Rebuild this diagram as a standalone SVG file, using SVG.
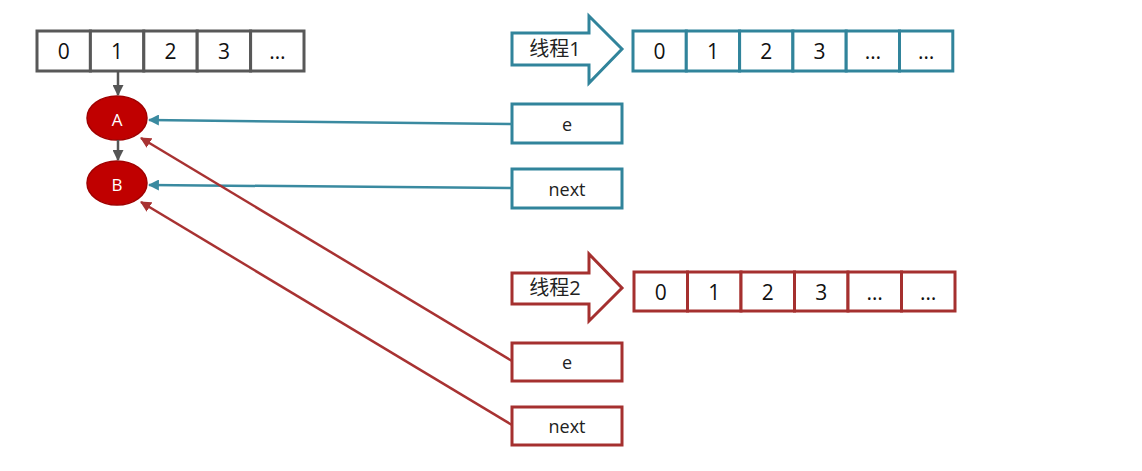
<svg xmlns="http://www.w3.org/2000/svg" width="1142" height="471" viewBox="0 0 1142 471">
<style>
text{font-family:"Open Sans","Noto Sans","Noto Sans CJK SC",sans-serif;text-anchor:middle;dominant-baseline:central}
.cg{fill:#fff;stroke:#585858;stroke-width:3}
.ct{fill:#fff;stroke:#31849b;stroke-width:3}
.cr{fill:#fff;stroke:#a5302f;stroke-width:3}
.num{font-size:21px;fill:#111}
.lbl{font-size:18px;fill:#222}
.th{font-size:20px;fill:#222}
.node{fill:#c00000;stroke:#a00000;stroke-width:1.5}
.nt{font-size:17px;fill:#fff}
.lg{stroke:#555;stroke-width:2.5;fill:none}
.lt{stroke:#3a8aa0;stroke-width:2.5;fill:none}
.lr{stroke:#a83232;stroke-width:2.5;fill:none}
</style>
<defs>
<marker id="ag" viewBox="0 0 10 10" refX="9" refY="5" markerWidth="4.4" markerHeight="4.4" orient="auto"><path d="M0,0L10,5L0,10z" fill="#555"/></marker>
<marker id="at" viewBox="0 0 10 10" refX="9" refY="5" markerWidth="4.4" markerHeight="4.4" orient="auto"><path d="M0,0L10,5L0,10z" fill="#3a8aa0"/></marker>
<marker id="ar" viewBox="0 0 10 10" refX="9" refY="5" markerWidth="4.4" markerHeight="4.4" orient="auto"><path d="M0,0L10,5L0,10z" fill="#a83232"/></marker>
</defs>
<rect width="1142" height="471" fill="#fff"/>

<g id="table">
<rect class="cg" x="37" y="31" width="53.4" height="40"/>
<rect class="cg" x="90.4" y="31" width="53.4" height="40"/>
<rect class="cg" x="143.8" y="31" width="53.4" height="40"/>
<rect class="cg" x="197.2" y="31" width="53.4" height="40"/>
<rect class="cg" x="250.6" y="31" width="53.4" height="40"/>
<text class="num" x="63.7" y="51">0</text>
<text class="num" x="117.1" y="51">1</text>
<text class="num" x="170.5" y="51">2</text>
<text class="num" x="223.9" y="51">3</text>
<text class="num" x="277.3" y="51">…</text>
</g>

<g id="nodeA"><ellipse class="node" cx="117" cy="118" rx="30" ry="22"/><text class="nt" x="117" y="119">A</text></g>
<g id="nodeB"><ellipse class="node" cx="117" cy="183" rx="30" ry="22"/><text class="nt" x="117" y="184">B</text></g>

<g id="thread1">
<path class="ct" d="M512,33H589V16L622,49L589,83V65H512Z"/>
<text class="th" x="555" y="48">线程1</text>
</g>
<g id="array1">
<rect class="ct" x="633" y="31" width="53.3" height="40"/>
<rect class="ct" x="686.3" y="31" width="53.3" height="40"/>
<rect class="ct" x="739.6" y="31" width="53.3" height="40"/>
<rect class="ct" x="792.9" y="31" width="53.3" height="40"/>
<rect class="ct" x="846.2" y="31" width="53.3" height="40"/>
<rect class="ct" x="899.5" y="31" width="53.3" height="40"/>
<text class="num" x="659.6" y="51">0</text>
<text class="num" x="712.9" y="51">1</text>
<text class="num" x="766.2" y="51">2</text>
<text class="num" x="819.5" y="51">3</text>
<text class="num" x="872.8" y="51">…</text>
<text class="num" x="926.1" y="51">…</text>
</g>
<g id="e1"><rect class="ct" x="512" y="104" width="110" height="39"/><text class="lbl" x="567" y="124">e</text></g>
<g id="next1"><rect class="ct" x="512" y="169" width="110" height="39"/><text class="lbl" x="567" y="189">next</text></g>

<g id="thread2">
<path class="cr" d="M512,273H589V254L622,288L589,321V304H512Z"/>
<text class="th" x="555" y="287">线程2</text>
</g>
<g id="array2">
<rect class="cr" x="634" y="272" width="53.5" height="39"/>
<rect class="cr" x="687.5" y="272" width="53.5" height="39"/>
<rect class="cr" x="741" y="272" width="53.5" height="39"/>
<rect class="cr" x="794.5" y="272" width="53.5" height="39"/>
<rect class="cr" x="848" y="272" width="53.5" height="39"/>
<rect class="cr" x="901.5" y="272" width="53.5" height="39"/>
<text class="num" x="660.75" y="292">0</text>
<text class="num" x="714.25" y="292">1</text>
<text class="num" x="767.75" y="292">2</text>
<text class="num" x="821.25" y="292">3</text>
<text class="num" x="874.75" y="292">…</text>
<text class="num" x="928.25" y="292">…</text>
</g>
<g id="e2"><rect class="cr" x="512" y="343" width="110" height="38"/><text class="lbl" x="567" y="362">e</text></g>
<g id="next2"><rect class="cr" x="512" y="407" width="110" height="38"/><text class="lbl" x="567" y="426">next</text></g>

<g id="connectors">
<line class="lg" x1="118" y1="71" x2="118" y2="95" marker-end="url(#ag)"/>
<line class="lg" x1="118" y1="140" x2="118" y2="160" marker-end="url(#ag)"/>
<line class="lt" x1="512" y1="124" x2="149" y2="120" marker-end="url(#at)"/>
<line class="lt" x1="512" y1="188" x2="149" y2="185" marker-end="url(#at)"/>
<line class="lr" x1="512" y1="361" x2="141" y2="138" marker-end="url(#ar)"/>
<line class="lr" x1="512" y1="425" x2="141" y2="202" marker-end="url(#ar)"/>
</g>
</svg>
